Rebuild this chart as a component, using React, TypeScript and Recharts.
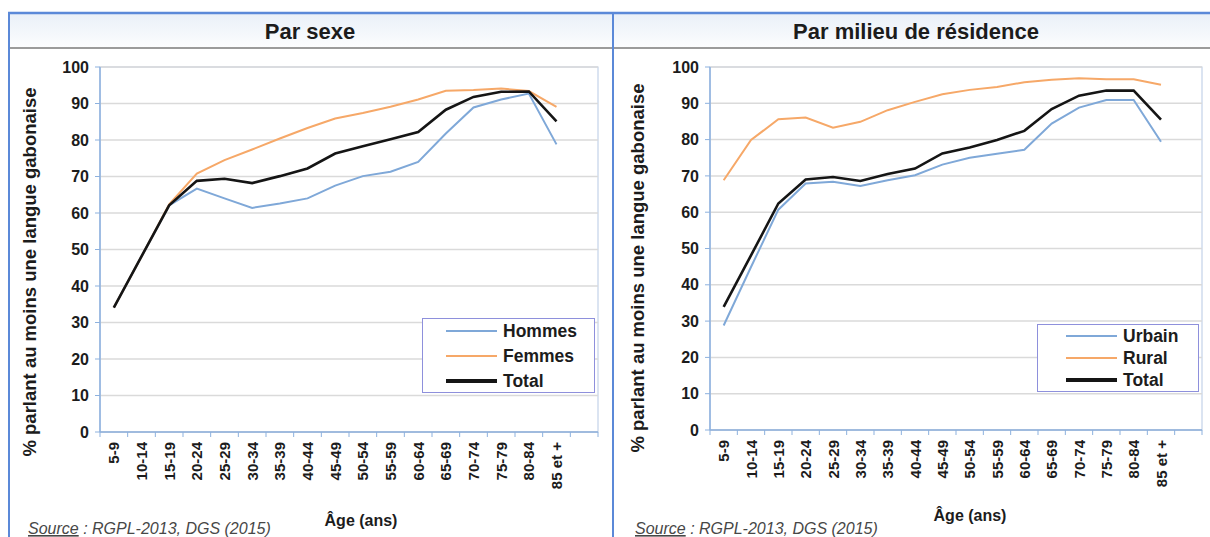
import { LineChart, Line, XAxis, YAxis, CartesianGrid } from 'recharts'

// age groups (x categories)
const ages = [
  '5-9', '10-14', '15-19', '20-24', '25-29', '30-34', '35-39', '40-44', '45-49',
  '50-54', '55-59', '60-64', '65-69', '70-74', '75-79', '80-84', '85 et +',
]
const yTicks = [0, 10, 20, 30, 40, 50, 60, 70, 80, 90, 100]

// Par sexe
const hommes = [34.1, 48.1, 62.1, 66.7, 64.0, 61.4, 62.6, 64.0, 67.5, 70.1, 71.3, 74.0, 81.8, 88.9, 91.1, 92.7, 78.8]
const femmes = [34.1, 48.1, 62.4, 70.8, 74.5, 77.4, 80.4, 83.3, 85.9, 87.4, 89.1, 91.1, 93.5, 93.7, 94.1, 93.4, 89.1]
const totalSexe = [34.1, 48.1, 62.1, 68.8, 69.4, 68.2, 70.1, 72.2, 76.3, 78.3, 80.2, 82.2, 88.3, 91.8, 93.2, 93.3, 85.1]

// Par milieu de résidence
const urbain = [28.8, 44.9, 60.7, 67.9, 68.4, 67.2, 68.8, 70.2, 73.1, 75.0, 76.1, 77.2, 84.4, 88.8, 90.9, 90.9, 79.4]
const rural = [68.8, 79.9, 85.6, 86.1, 83.3, 84.9, 88.1, 90.4, 92.5, 93.7, 94.5, 95.8, 96.5, 96.9, 96.6, 96.6, 95.1]
const totalMilieu = [33.9, 48.1, 62.4, 69.0, 69.7, 68.6, 70.5, 72.0, 76.2, 77.8, 79.9, 82.4, 88.4, 92.1, 93.5, 93.5, 85.5]

const BLUE = '#7fa8d8'
const ORANGE = '#f6a868'
const BLACK = '#151515'
const AXIS = '#8db1de'
const FRAME = '#5b89d8'
const TEXT = '#1c1c1c'
const FONT = '"Liberation Sans", Arial, Helvetica, sans-serif'

type Series = { key: string; name: string; color: string; width: number; values: number[] }

const sexeSeries: Series[] = [
  { key: 'hommes', name: 'Hommes', color: BLUE, width: 2, values: hommes },
  { key: 'femmes', name: 'Femmes', color: ORANGE, width: 2, values: femmes },
  { key: 'total', name: 'Total', color: BLACK, width: 2.6, values: totalSexe },
]

const milieuSeries: Series[] = [
  { key: 'urbain', name: 'Urbain', color: BLUE, width: 2, values: urbain },
  { key: 'rural', name: 'Rural', color: ORANGE, width: 2, values: rural },
  { key: 'total', name: 'Total', color: BLACK, width: 2.6, values: totalMilieu },
]

const CHART_TOP = 48
const CHART_H = 489

type Panel = {
  title: string
  titleX: number
  series: Series[]
  left: number
  width: number
  margin: { top: number; right: number; bottom: number; left: number }
  xAxisHeight: number
  plot: { x: number; y: number; w: number; h: number }
  yTitle: { x: number; y: number }
  xTitle: { x: number; y: number }
  sourceX: number
  legend: { x: number; y: number; w: number; h: number; row0: number; gap: number; lineX: number }
}

const panels: Panel[] = [
  {
    title: 'Par sexe',
    titleX: 310,
    series: sexeSeries,
    left: 8,
    width: 605,
    margin: { top: 19, right: 15, bottom: 0, left: 42 },
    xAxisHeight: 105,
    plot: { x: 100, y: 67, w: 498, h: 365 },
    yTitle: { x: 36, y: 272 },
    xTitle: { x: 361, y: 526 },
    sourceX: 28,
    legend: { x: 422, y: 318, w: 173, h: 75, row0: 12, gap: 25, lineX: 23 },
  },
  {
    title: 'Par milieu de résidence',
    titleX: 916,
    series: milieuSeries,
    left: 615,
    width: 592,
    margin: { top: 19, right: 5, bottom: 0, left: 45 },
    xAxisHeight: 107,
    plot: { x: 710, y: 67, w: 492, h: 363 },
    yTitle: { x: 644, y: 268 },
    xTitle: { x: 970, y: 521 },
    sourceX: 635,
    legend: { x: 1037, y: 324, w: 162, h: 68, row0: 11, gap: 22, lineX: 28 },
  },
]

function AgeTick(props: any) {
  const { x, y, payload, index, step } = props
  const last = index === ages.length - 1
  return (
    <g>
      <line x1={x - step / 2} x2={x - step / 2} y1={y} y2={y + 5} stroke={AXIS} />
      {last && <line x1={x + step / 2} x2={x + step / 2} y1={y} y2={y + 5} stroke={AXIS} />}
      {last && <line x1={x + step * 1.5} x2={x + step * 1.5} y1={y} y2={y + 5} stroke={AXIS} />}
      <text
        transform={`translate(${x + 5.5},${y + 10}) rotate(-90)`}
        textAnchor="end"
        fontSize={15}
        fontWeight="bold"
        fontFamily={FONT}
        fill={TEXT}
      >
        {payload.value}
      </text>
    </g>
  )
}

function PanelChart({ p }: { p: Panel }) {
  const data = ages.map((age, i) => {
    const row: Record<string, string | number> = { age }
    p.series.forEach((s) => (row[s.key] = s.values[i]))
    return row
  })
  const step = p.plot.w / 18

  return (
    <div style={{ position: 'absolute', left: p.left, top: CHART_TOP }}>
      <LineChart width={p.width} height={CHART_H} data={data} margin={p.margin}>
        <CartesianGrid vertical={false} stroke="#dadada" strokeWidth={1.5} />
        <XAxis
          dataKey="age"
          interval={0}
          height={p.xAxisHeight}
          padding={{ left: step / 2, right: step * 1.5 }}
          tickSize={0}
          tickMargin={0}
          tickLine={false}
          axisLine={{ stroke: AXIS, strokeWidth: 1.5 }}
          tick={(t: any) => <AgeTick {...t} step={step} />}
        />
        <YAxis
          domain={[0, 100]}
          ticks={yTicks}
          interval={0}
          width={50}
          tickSize={5}
          tickMargin={6}
          tickLine={{ stroke: AXIS }}
          axisLine={{ stroke: AXIS, strokeWidth: 1.5 }}
          tick={{ fontSize: 16, fontWeight: 'bold', fill: TEXT, fontFamily: FONT }}
        />
        {p.series.map((s) => (
          <Line
            key={s.key}
            type="linear"
            dataKey={s.key}
            name={s.name}
            stroke={s.color}
            strokeWidth={s.width}
            dot={false}
            isAnimationActive={false}
          />
        ))}
      </LineChart>
    </div>
  )
}

function PanelLegend({ p }: { p: Panel }) {
  const l = p.legend
  return (
    <div
      style={{
        position: 'absolute',
        left: l.x,
        top: l.y,
        width: l.w,
        height: l.h,
        boxSizing: 'border-box',
        border: '1px solid #8e90dc',
        background: '#fff',
        fontFamily: FONT,
      }}
    >
      {p.series.map((s, i) => (
        <div
          key={s.key}
          style={{
            position: 'absolute',
            left: l.lineX,
            top: l.row0 + i * l.gap - 10,
            height: 20,
            display: 'flex',
            alignItems: 'center',
            whiteSpace: 'nowrap',
          }}
        >
          <span style={{ display: 'inline-block', width: 51, height: s.width + 0.6, background: s.color }} />
          <span style={{ marginLeft: 6, fontSize: 17.5, fontWeight: 'bold', color: TEXT }}>{s.name}</span>
        </div>
      ))}
    </div>
  )
}

export default function App() {
  return (
    <div style={{ position: 'absolute', left: 0, top: 0, width: 1210, height: 537, background: '#fff', overflow: 'hidden' }}>
      <svg width={1210} height={537} style={{ position: 'absolute', left: 0, top: 0 }} fontFamily={FONT}>
        <defs>
          <linearGradient id="titlebar" x1="0" y1="0" x2="0" y2="1">
            <stop offset="0" stopColor="#eaf0f8" />
            <stop offset="1" stopColor="#fcfdfe" />
          </linearGradient>
        </defs>
        <rect x={9} y={14} width={603} height={34} fill="url(#titlebar)" />
        <rect x={614} y={14} width={596} height={34} fill="url(#titlebar)" />
        <line x1={10} x2={612} y1={48} y2={48} stroke="#9b9b9b" strokeWidth={2} />
        <line x1={614} x2={1210} y1={48} y2={48} stroke="#9b9b9b" strokeWidth={2} />
        <line x1={8} x2={1210} y1={13} y2={13} stroke={FRAME} strokeWidth={2.5} />
        <line x1={9} x2={9} y1={12} y2={537} stroke={FRAME} strokeWidth={2} />
        <line x1={613} x2={613} y1={12} y2={537} stroke={FRAME} strokeWidth={2} />
        {panels.map((p) => (
          <g key={p.title}>
            <text x={p.titleX} y={39} textAnchor="middle" fontSize={22} fontWeight="bold" fill={TEXT}>
              {p.title}
            </text>
            <rect x={p.plot.x} y={p.plot.y} width={p.plot.w} height={p.plot.h} fill="#fff" stroke="#b7c9e4" strokeWidth={1} />
            <text
              transform={`translate(${p.yTitle.x},${p.yTitle.y}) rotate(-90)`}
              textAnchor="middle"
              fontSize={18.5}
              fontWeight="bold"
              fill={TEXT}
            >
              % parlant au moins une langue gabonaise
            </text>
            <text x={p.xTitle.x} y={p.xTitle.y} textAnchor="middle" fontSize={16} fontWeight="bold" fill={TEXT}>
              Âge (ans)
            </text>
            <text x={p.sourceX} y={534} fontSize={16} fontStyle="italic" fill="#474747">
              <tspan style={{ textDecoration: 'underline' }}>Source</tspan> : RGPL-2013, DGS (2015)
            </text>
          </g>
        ))}
      </svg>
      {panels.map((p) => (
        <PanelChart key={p.title} p={p} />
      ))}
      {panels.map((p) => (
        <PanelLegend key={p.title} p={p} />
      ))}
    </div>
  )
}
